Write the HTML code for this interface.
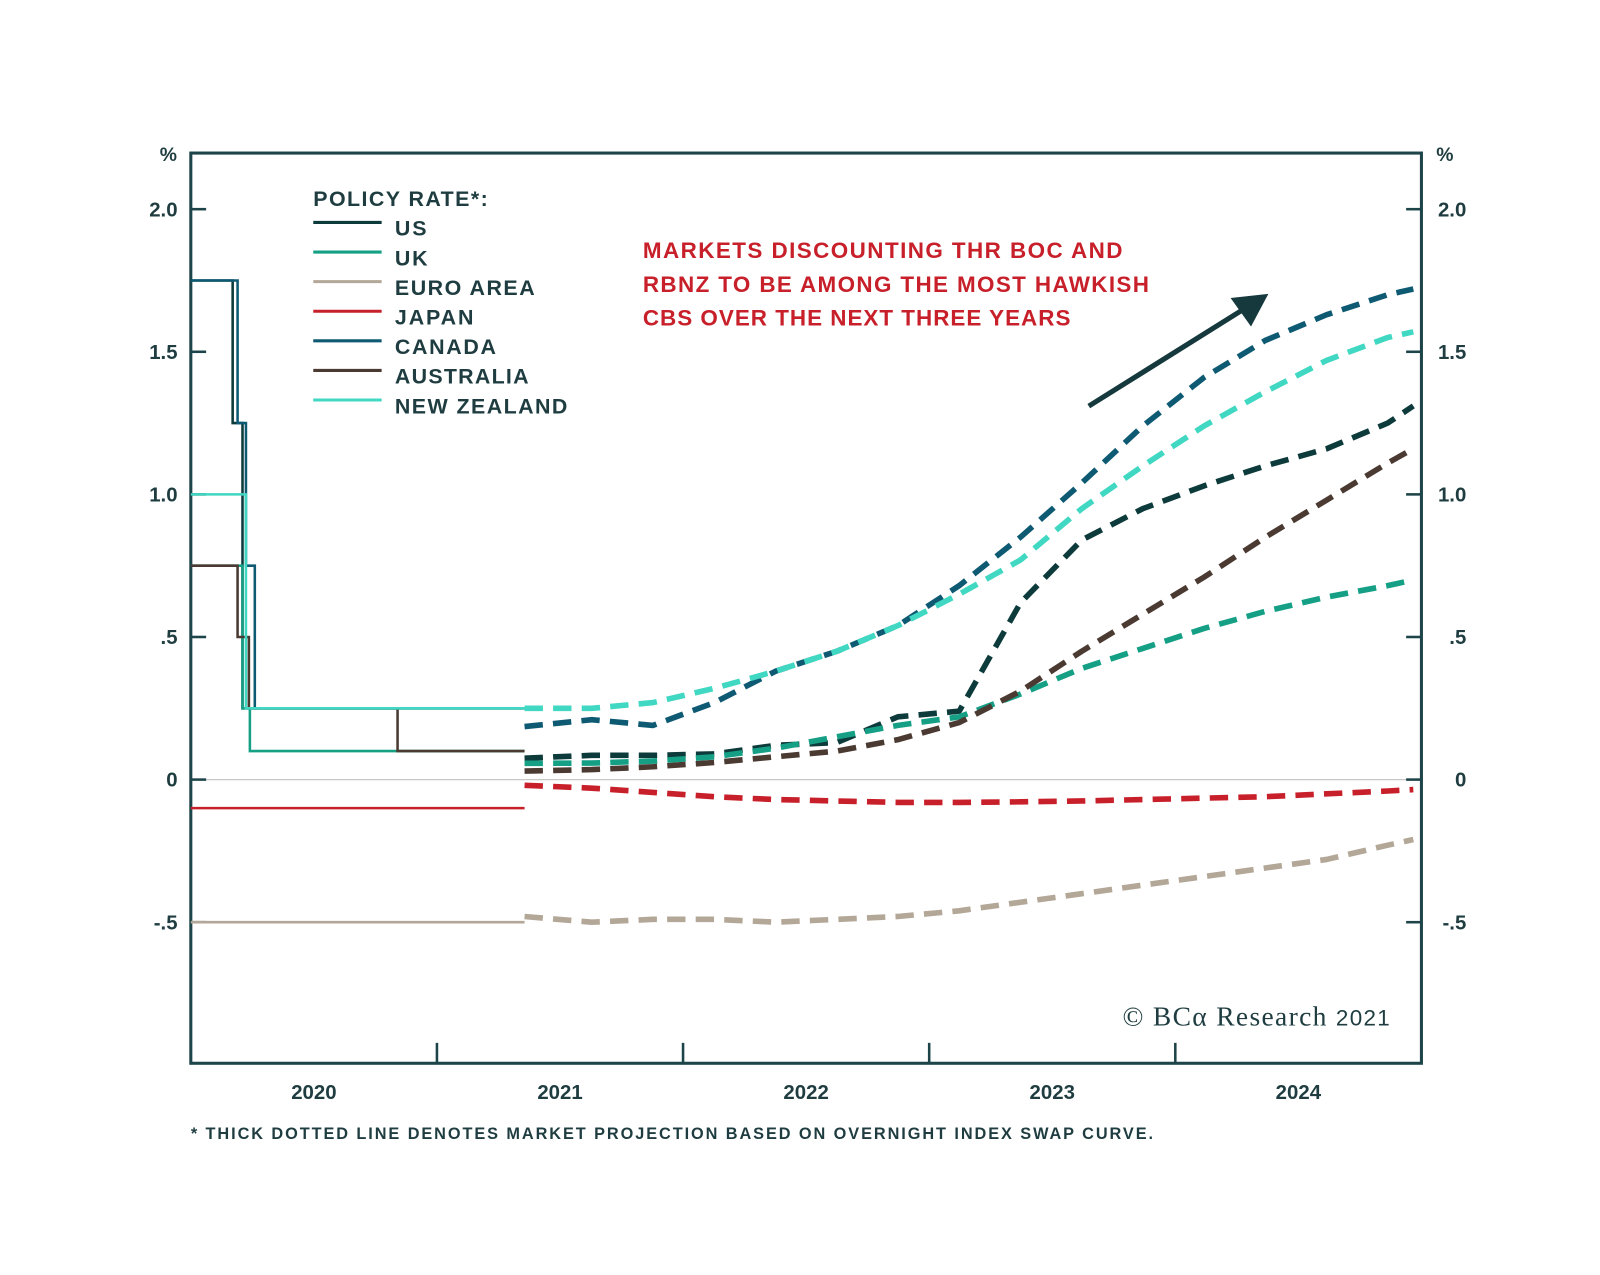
<!DOCTYPE html>
<html><head><meta charset="utf-8"><style>
html,body{margin:0;padding:0;background:#fff}
svg{display:block}
text{font-family:"Liberation Sans",sans-serif;font-weight:bold;fill:#1f3d40}
</style></head><body>
<svg id="chart" width="1600" height="1275" viewBox="0 0 1568 1249.5" preserveAspectRatio="none" xmlns="http://www.w3.org/2000/svg">
<g id="axes"></g>
<g id="series"></g>
<g>
<text x="307" y="202" font-size="21" textLength="171">POLICY RATE*:</text>
<g id="legend"></g>
</g>
<g>
<text x="630" y="253" font-size="22" textLength="470" style="fill:#c8202a">MARKETS DISCOUNTING THR BOC AND</text>
<text x="630" y="286" font-size="22" textLength="496" style="fill:#c8202a">RBNZ TO BE AMONG THE MOST HAWKISH</text>
<text x="630" y="319" font-size="22" textLength="419" style="fill:#c8202a">CBS OVER THE NEXT THREE YEARS</text>
<line x1="1067" y1="398" x2="1222" y2="301" stroke="#15393d" stroke-width="5"/>
<polygon points="1243,288 1206,292 1226,320" fill="#15393d"/>
</g>
<text x="1100" y="1005" font-size="27" textLength="262" style="font-family:'Liberation Serif',serif;font-weight:normal;fill:#1f3d40">© BCα Research <tspan font-size="22" style="font-family:'Liberation Sans',sans-serif">2021</tspan></text>
<text x="187" y="1116" font-size="16" textLength="943">* THICK DOTTED LINE DENOTES MARKET PROJECTION BASED ON OVERNIGHT INDEX SWAP CURVE.</text>
</svg>
<script>
// chart data
const yTicks = [2.0, 1.5, 1.0, 0.5, 0, -0.5];
const yTickLabels = ["2.0", "1.5", "1.0", ".5", "0", "-.5"];
const years = ["2020", "2021", "2022", "2023", "2024"];
const seriesNames = ["US", "UK", "EURO AREA", "JAPAN", "CANADA", "AUSTRALIA", "NEW ZEALAND"];
const seriesColors = ["#0d3b3b", "#15a086", "#b3a797", "#c8202a", "#0e5a73", "#4a3a32", "#40d8c2"];
// historical step series: [years since 2020, rate]
const histUS = [[0,1.75],[0.17,1.25],[0.21,0.25]];
const histUK = [[0,0.75],[0.21,0.25],[0.24,0.1]];
const histEuro = [[0,-0.5]];
const histJapan = [[0,-0.1]];
const histCanada = [[0,1.75],[0.19,1.25],[0.224,0.75],[0.26,0.25]];
const histAustralia = [[0,0.75],[0.19,0.5],[0.236,0.25],[0.84,0.1]];
const histNZ = [[0,1.0],[0.224,0.25]];
const histEnd = 1.356;
// projections: x positions in years since 2020
const projT = [1.356,1.629,1.878,2.127,2.376,2.625,2.873,3.122,3.371,3.620,3.868,4.117,4.366,4.615,4.863,4.967];
const projUS = [0.075,0.085,0.085,0.09,0.12,0.13,0.22,0.24,0.62,0.84,0.95,1.03,1.10,1.16,1.25,1.31];
const projUK = [0.057,0.058,0.065,0.08,0.11,0.15,0.19,0.22,0.30,0.39,0.46,0.53,0.59,0.64,0.68,0.70];
const projEuro = [-0.48,-0.50,-0.49,-0.49,-0.50,-0.49,-0.48,-0.46,-0.43,-0.40,-0.37,-0.34,-0.31,-0.28,-0.23,-0.21];
const projJapan = [-0.02,-0.03,-0.045,-0.06,-0.07,-0.075,-0.08,-0.08,-0.078,-0.075,-0.07,-0.065,-0.06,-0.05,-0.04,-0.035];
const projCanada = [0.186,0.21,0.19,0.27,0.38,0.45,0.54,0.68,0.85,1.04,1.24,1.41,1.54,1.63,1.70,1.72];
const projAustralia = [0.03,0.035,0.045,0.06,0.08,0.10,0.14,0.20,0.31,0.45,0.58,0.71,0.85,0.98,1.11,1.16];
const projNZ = [0.25,0.25,0.27,0.32,0.38,0.45,0.54,0.65,0.77,0.95,1.10,1.24,1.36,1.47,1.55,1.57];

const hist = [histUS, histUK, histEuro, histJapan, histCanada, histAustralia, histNZ];
const proj = [projUS, projUK, projEuro, projJapan, projCanada, projAustralia, projNZ];

const L = 187, R = 1393, T = 150, B = 1042;
const xs = t => L + (R - L) * t / 5;
const ys = v => 764 - 279.5 * v;
const NS = "http://www.w3.org/2000/svg";
function mk(tag, attrs, parent) {
  const e = document.createElementNS(NS, tag);
  for (const k in attrs) e.setAttribute(k, attrs[k]);
  parent.appendChild(e);
  return e;
}
const axes = document.getElementById('axes');
const ser = document.getElementById('series');
const leg = document.getElementById('legend');

let el = mk('line', {x1: L, x2: R, y1: ys(0), y2: ys(0), stroke: '#c8c8c8', 'stroke-width': 1.2}, axes);



yTicks.forEach((v, i) => {
  const y = ys(v);
  let a = mk('line', {x1: L, x2: L + 15, y1: y, y2: y, stroke: '#1d4448', 'stroke-width': 2.5}, axes);
  
  
  let b = mk('line', {x1: R - 15, x2: R, y1: y, y2: y, stroke: '#1d4448', 'stroke-width': 2.5}, axes);
  
  
  let t1 = mk('text', {x: 174, y: y + 7, 'text-anchor': 'end', 'font-size': 20}, axes);
  t1.textContent = yTickLabels[i];
  
  
  let t2 = mk('text', {x: 1437, y: y + 7, 'text-anchor': 'end', 'font-size': 20}, axes);
  t2.textContent = yTickLabels[i];
  
  
});
[[165, 'left'], [1416, 'right']].forEach(p => {
  let t = mk('text', {x: p[0], y: 158, 'text-anchor': 'middle', 'font-size': 19}, axes);
  t.textContent = '%';
  
  
});
years.forEach((yr, i) => {
  if (i > 0) {
    let tk = mk('line', {x1: xs(i), x2: xs(i), y1: B, y2: B - 20, stroke: '#1d4448', 'stroke-width': 2.5}, axes);
    
    
  }
  let t = mk('text', {x: xs(i + 0.5), y: 1077, 'text-anchor': 'middle', 'font-size': 20}, axes);
  t.textContent = yr;
  
  
});
el = mk('rect', {x: L, y: T, width: R - L, height: B - T, fill: 'none', stroke: '#1d4448', 'stroke-width': 3}, axes);



const order = [2, 3, 0, 1, 5, 4, 6];
order.forEach(i => {
  const h = hist[i];
  let d = '';
  h.forEach((p, j) => {
    if (j === 0) d += 'M' + xs(p[0]) + ' ' + ys(p[1]);
    else d += ' H' + xs(p[0]) + ' V' + ys(p[1]);
  });
  d += ' H' + xs(histEnd);
  let hp = mk('path', {d: d, fill: 'none', stroke: seriesColors[i], 'stroke-width': 2.5}, ser);
  
  
});
order.forEach(i => {
  const pts = proj[i].map((v, j) => xs(projT[j]) + ',' + ys(v)).join(' ');
  let pl = mk('polyline', {points: pts, fill: 'none', stroke: seriesColors[i], 'stroke-width': 5.5, 'stroke-dasharray': '18 10', 'stroke-linecap': 'butt', 'stroke-linejoin': 'round'}, ser);
  
  
});
const legendWidths = [31, 32, 137, 77, 99, 131, 169];
seriesNames.forEach((n, i) => {
  const y = 218 + i * 29;
  let ln = mk('line', {x1: 307, x2: 374, y1: y, y2: y, stroke: seriesColors[i], 'stroke-width': 3}, leg);
  
  
  let t = mk('text', {x: 387, y: y + 13, 'font-size': 21, textLength: legendWidths[i]}, leg);
  t.textContent = n;
  
  
});
</script>
</body></html>
